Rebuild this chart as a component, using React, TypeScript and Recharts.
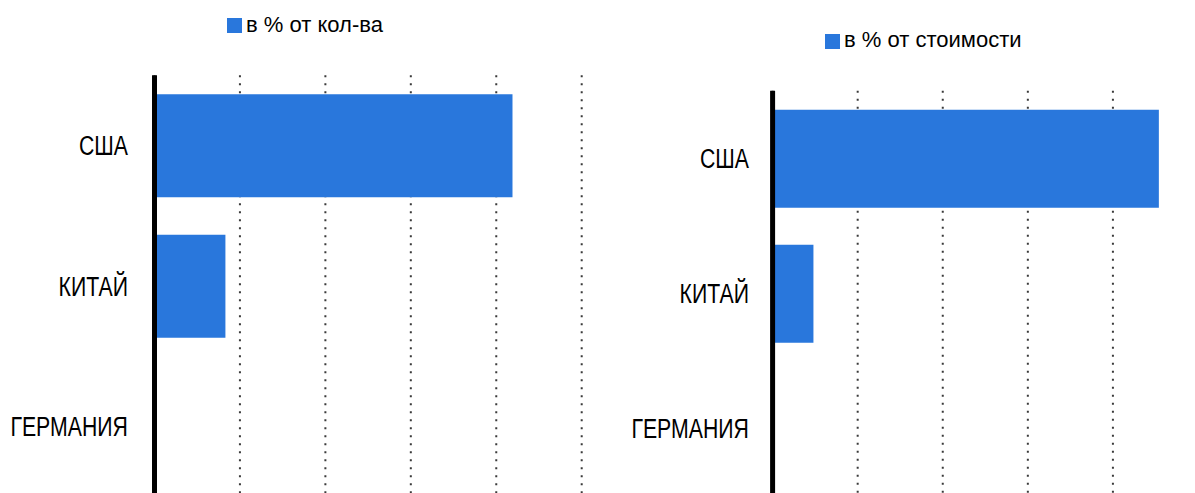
import React from 'react';
import { BarChart, Bar, XAxis, YAxis, CartesianGrid, Legend } from 'recharts';

const categories = ['США', 'КИТАЙ', 'ГЕРМАНИЯ'];
const shareByQuantity = [41.9, 8.3, 0];
const shareByValue = [45.4, 4.8, 0];
const percentTicks = [0, 10, 20, 30, 40, 50];
const seriesQuantity = 'в % от кол-ва';
const seriesValue = 'в % от стоимости';

const BLUE = '#2977DC';

const qtyData = categories.map((c, i) => ({ name: c, v: shareByQuantity[i] }));
const valData = categories.map((c, i) => ({ name: c, v: shareByValue[i] }));

const CategoryTick = (props: any) => {
  const { x, y, payload } = props;
  return (
    <g transform={`translate(${x},${y}) scale(0.76,1)`}>
      <text
        x={0}
        y={0}
        dy="0.355em"
        textAnchor="end"
        fill="#000"
        fontSize={28}
        fontFamily="'Liberation Sans', Arial, sans-serif"
      >
        {payload.value}
      </text>
    </g>
  );
};

const legendFormatter = (value: string) => (
  <span style={{ color: '#000' }}>{value}</span>
);

type PanelProps = {
  data: { name: string; v: number }[];
  name: string;
  width: number;
  height: number;
  margin: { top: number; right: number; bottom: number; left: number };
  yWidth: number;
  tickMargin: number;
  barSize: number;
  legendLeft: number;
  legendTop: number;
};

const Panel = (p: PanelProps) => (
  <BarChart
    width={p.width}
    height={p.height}
    data={p.data}
    layout="vertical"
    margin={p.margin}
    barSize={p.barSize}
  >
    <CartesianGrid
      horizontal={false}
      vertical={true}
      stroke="#3a3a3a"
      strokeWidth={2}
      strokeDasharray="2 6"
    />
    <XAxis type="number" dataKey="v" domain={[0, 50]} ticks={percentTicks} hide />
    <Legend
      layout="horizontal"
      align="center"
      verticalAlign="middle"
      iconType="square"
      iconSize={15}
      formatter={legendFormatter}
      wrapperStyle={{
        left: p.legendLeft,
        top: p.legendTop,
        width: 'auto',
        height: 'auto',
        fontSize: 22,
        fontFamily: "'Liberation Sans', Arial, sans-serif",
      }}
    />
    <Bar dataKey="v" name={p.name} fill={BLUE} isAnimationActive={false} />
    <YAxis
      type="category"
      dataKey="name"
      width={p.yWidth}
      tickLine={false}
      tickMargin={p.tickMargin}
      axisLine={{ stroke: '#000', strokeWidth: 5 }}
      tick={<CategoryTick />}
      interval={0}
    />
  </BarChart>
);

export default function App() {
  return (
    <div
      style={{
        position: 'fixed',
        left: 0,
        top: 0,
        width: 1195,
        height: 493,
        overflow: 'hidden',
        background: '#fff',
      }}
    >
      <div style={{ position: 'absolute', left: 0, top: 0 }}>
        <Panel
          data={qtyData}
          name={seriesQuantity}
          width={600}
          height={520}
          margin={{ top: 75.25, right: 18.3, bottom: 23.25, left: 0 }}
          yWidth={154.5}
          tickMargin={20.5}
          barSize={103}
          legendLeft={227}
          legendTop={11.5}
        />
      </div>
      <div style={{ position: 'absolute', left: 600, top: 0 }}>
        <Panel
          data={valData}
          name={seriesValue}
          width={640}
          height={520}
          margin={{ top: 90.7, right: 42, bottom: 24.3, left: 0 }}
          yWidth={172.6}
          tickMargin={17.6}
          barSize={98}
          legendLeft={225}
          legendTop={27}
        />
      </div>
    </div>
  );
}
